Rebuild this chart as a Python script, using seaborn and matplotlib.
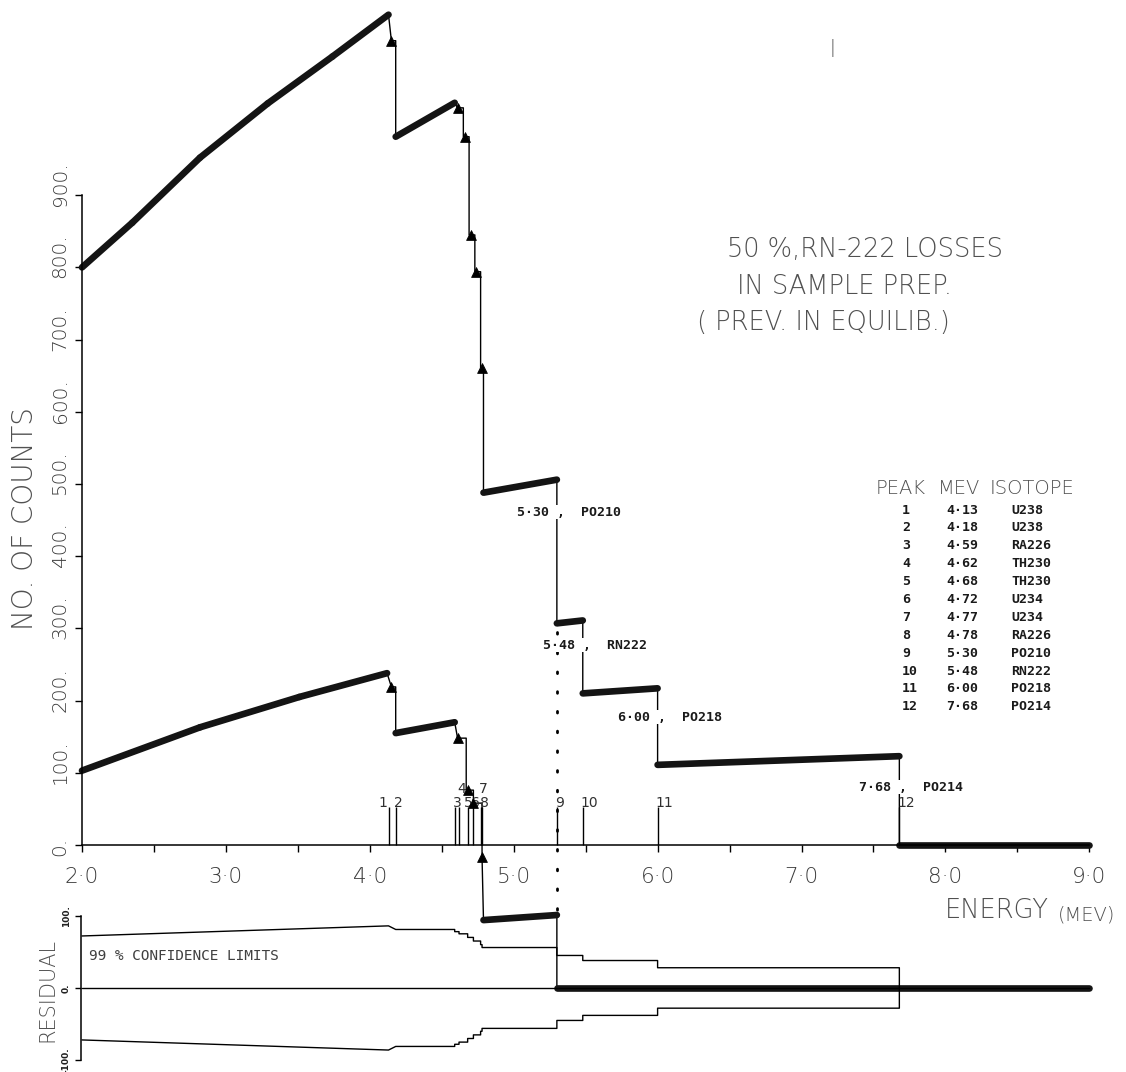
import numpy as np
import pandas as pd
import matplotlib
matplotlib.use("Agg")
import matplotlib.pyplot as plt
import matplotlib.transforms as mtransforms
import seaborn as sns

# ---------------- data ----------------
# upper (total) spectrum, counts vs energy (MeV)
upper_E = [2.00, 2.35, 2.82, 3.29, 3.74, 4.13, 4.15, 4.18, 4.18, 4.59, 4.61, 4.65,
           4.65, 4.69, 4.69, 4.73, 4.73, 4.77, 4.77, 4.79, 4.79, 5.30, 5.30, 5.48,
           5.48, 6.00, 6.00, 7.68, 7.68, 9.00]
upper_counts = [800, 862, 952, 1027, 1092, 1150, 1114, 1114, 981, 1028, 1021, 1021,
                981, 981, 845, 845, 794, 794, 661, 661, 488, 506, 307, 311,
                210, 217, 111, 123, 0, 0]
upper_marker_E = [4.15, 4.61, 4.66, 4.70, 4.74, 4.78]
upper_marker_counts = [1114, 1021, 981, 845, 794, 661]

# lower spectrum (continues into the residual panel)
lower_E = [2.00, 2.82, 3.51, 4.12, 4.15, 4.18, 4.18, 4.59, 4.61, 4.67, 4.67, 4.72,
           4.72, 4.78, 4.78, 4.79, 5.30, 5.30, 9.00]
lower_counts = [103, 163, 205, 238, 219, 219, 155, 170, 148, 148, 76, 76,
                58, 58, -17, -104, -97, -198, -198]
lower_marker_E = [4.15, 4.61, 4.68, 4.72, 4.78]
lower_marker_counts = [219, 148, 76, 58, -17]

# peaks
peak_no = [1, 2, 3, 4, 5, 6, 7, 8, 9, 10, 11, 12]
peak_E = [4.13, 4.18, 4.59, 4.62, 4.68, 4.72, 4.77, 4.78, 5.30, 5.48, 6.00, 7.68]
peak_iso = ["U238", "U238", "RA226", "TH230", "TH230", "U234", "U234", "RA226",
            "PO210", "RN222", "PO218", "PO214"]
peak_tier = [0, 0, 0, 1, 0, 0, 1, 0, 0, 0, 0, 0]
peak_line_top = 52
tier_counts = [58, 78]

# annotations on the upper spectrum
note_E = [5.30, 5.48, 6.00, 7.68]
note_counts = [461, 277, 177, 80]
note_text = ["5·30 ,  PO210", "5·48 ,  RN222", "6·00 ,  PO218", "7·68 ,  PO214"]

# dotted marker at 5.30 MeV
dot_E = 5.30
dot_top, dot_bottom = 295, -98

# residual panel: 99 % confidence limits (half width)
cl_E = [2.00, 4.13, 4.18, 4.59, 4.59, 4.62, 4.62, 4.68, 4.68, 4.72, 4.72, 4.77, 4.77,
        4.78, 4.78, 5.30, 5.30, 5.48, 5.48, 6.00, 6.00, 7.68]
cl_half = [72, 86, 81, 81, 78, 78, 75, 75, 70, 70, 65, 65, 60,
           60, 56, 56, 45, 45, 38, 38, 28, 28]
res_offset = 198   # residual zero sits at -198 counts on the main scale

x_ticks = [2.0, 3.0, 4.0, 5.0, 6.0, 7.0, 8.0, 9.0]
x_ticklabels = ["2·0", "3·0", "4·0", "5·0", "6·0", "7·0", "8·0", "9·0"]
y_ticks = [0, 100, 200, 300, 400, 500, 600, 700, 800, 900]
y_ticklabels = ["0.", "100.", "200.", "300.", "400.", "500.", "600.", "700.", "800.", "900."]
r_ticks = [-100, 0, 100]
r_ticklabels = ["-100.", "0.", "100."]

# ---------------- figure ----------------
sns.set_theme(style="white")
plt.rcParams["font.family"] = ["DejaVu Sans"]
W, H, DPI = 1126, 1072, 100
fig = plt.figure(figsize=(W / DPI, H / DPI), dpi=DPI)
fig.patch.set_facecolor("white")

XL = (2.0 - 82 / 143.9, 2.0 + (W - 82) / 143.9)
YL = (-(H - 845) / 0.722, 845 / 0.722)

ax = fig.add_axes([0, 0, 1, 1])
ax.set_xlim(*XL)
ax.set_ylim(*YL)
ax.patch.set_visible(False)

axr = fig.add_axes([0, 0, 1, 1])
axr.set_xlim(*XL)
axr.set_ylim(YL[0] + res_offset, YL[1] + res_offset)
axr.patch.set_visible(False)

GRAY = "#505050"
THIN = 1.0
BOLD = 4.8
LW = 200


def px(x, y):
    return x / W, 1 - y / H


def bold_segments(E, v):
    rows = []
    seg = 0
    for i in range(len(E) - 1):
        if E[i + 1] - E[i] > 0.1:
            rows.append((seg, E[i], v[i]))
            rows.append((seg, E[i + 1], v[i + 1]))
            seg += 1
    return pd.DataFrame(rows, columns=["seg", "E", "v"])


# thin connecting paths
sns.lineplot(x=upper_E, y=upper_counts, sort=False, estimator=None, ax=ax,
             color="black", lw=THIN)
sns.lineplot(x=lower_E, y=lower_counts, sort=False, estimator=None, ax=ax,
             color="black", lw=THIN, clip_on=False)
# bold segments
for E, v in [(upper_E, upper_counts), (lower_E, lower_counts)]:
    df = bold_segments(E, v)
    sns.lineplot(data=df, x="E", y="v", units="seg", estimator=None, sort=False, ax=ax,
                 color="#141414", lw=BOLD, solid_capstyle="round", legend=False)
# triangles
sns.scatterplot(x=upper_marker_E + lower_marker_E,
                y=upper_marker_counts + lower_marker_counts,
                marker="^", s=50, color="black", edgecolor="black", ax=ax, zorder=5)

# peak lines and numbers
ax.vlines(peak_E, 0, peak_line_top, color="black", lw=THIN)
for n, e, t in zip(peak_no, peak_E, peak_tier):
    if n == 1:
        off, ha = -1, "right"
    elif n == 5:
        off, ha = -4, "left"
    else:
        off, ha = -2, "left"
    tr = ax.transData + mtransforms.ScaledTranslation(off / DPI, 0, fig.dpi_scale_trans)
    ax.text(e, tier_counts[t], str(n), ha=ha, va="center", fontsize=10,
            color="#303030", transform=tr)

# annotations
for e, c, s in zip(note_E, note_counts, note_text):
    tr = ax.transData + mtransforms.ScaledTranslation(-40 / DPI, 0, fig.dpi_scale_trans)
    ax.text(e, c, s, ha="left", va="center", family="DejaVu Sans Mono", fontsize=9.5,
            fontweight="bold", color="#1a1a1a", transform=tr,
            bbox=dict(facecolor="white", edgecolor="none", pad=0.5), zorder=6)

# dotted line
ax.plot([dot_E, dot_E], [dot_top, dot_bottom], color="black", lw=2.0,
        linestyle=(0, (0.6, 6.5)), dash_capstyle="round", clip_on=False)

# residual panel
path_E = cl_E + cl_E[::-1]
path_r = cl_half + [-h for h in cl_half[::-1]]
sns.lineplot(x=path_E, y=path_r, sort=False, estimator=None, ax=axr, color="black", lw=THIN)
sns.lineplot(x=[2.0, 9.0], y=[0, 0], sort=False, estimator=None, ax=axr, color="black", lw=THIN)

# ---------------- axes styling ----------------
for a in (ax, axr):
    for s in ("top", "right"):
        a.spines[s].set_visible(False)
    a.grid(False)
    a.set_xlabel("")
    a.set_ylabel("")

ax.spines["left"].set_position(("data", 2.0))
ax.spines["left"].set_bounds(0, 900)
ax.spines["bottom"].set_position(("data", 0))
ax.spines["bottom"].set_bounds(2.0, 9.0)
for s in ("left", "bottom"):
    ax.spines[s].set_color("black")
    ax.spines[s].set_linewidth(1.1)

ax.set_xticks(x_ticks)
ax.set_xticklabels(x_ticklabels)
ax.set_xticks([2.5, 3.5, 4.5, 5.5, 6.5, 7.5, 8.5], minor=True)
ax.tick_params(axis="x", which="both", bottom=True, direction="out", length=5,
               width=1, color="black")
ax.tick_params(axis="x", which="major", labelsize=15.5, labelcolor="#3c3c3c", pad=11)
for lb in ax.get_xticklabels():
    lb.set_fontweight(LW)

ax.set_yticks(y_ticks)
ax.set_yticklabels(y_ticklabels)
ax.tick_params(axis="y", left=True, direction="out", length=5, width=1, color="black",
               labelsize=14.5, labelcolor="#3c3c3c", pad=4)
for tk in ax.yaxis.get_major_ticks():
    lb = tk.label1
    lb.set_rotation(90)
    lb.set_va("bottom")
    lb.set_ha("right")
    lb.set_fontweight(LW)
    lb.set_transform(lb.get_transform() +
                     mtransforms.ScaledTranslation(0, -11 / DPI, fig.dpi_scale_trans))

axr.spines["bottom"].set_visible(False)
axr.spines["left"].set_position(("data", 1.99))
axr.spines["left"].set_bounds(-100, 100)
axr.spines["left"].set_color("black")
axr.spines["left"].set_linewidth(1.1)
axr.set_xticks([])
axr.set_yticks(r_ticks)
axr.set_yticklabels(r_ticklabels)
axr.tick_params(axis="y", left=True, direction="out", length=4, width=1, color="black",
                labelsize=6.5, labelcolor="#202020", pad=3)
for tk in axr.yaxis.get_major_ticks():
    lb = tk.label1
    lb.set_rotation(90)
    lb.set_va("center")
    lb.set_ha("right")
    lb.set_fontweight("bold")

# ---------------- texts ----------------
fig.text(*px(25, 519), "NO. OF COUNTS", rotation=90, ha="center", va="center",
         fontsize=20, color=GRAY, fontweight=LW)
fig.text(*px(945, 911), "ENERGY", ha="left", va="center", fontsize=18.5, color=GRAY,
         fontweight=LW)
fig.text(*px(1058, 915), "(MEV)", ha="left", va="center", fontsize=14, color=GRAY,
         fontweight=LW)
fig.text(*px(47, 990), "RESIDUAL", rotation=90, ha="center", va="center",
         fontsize=15, color=GRAY, fontweight=LW)
fig.text(*px(89, 956), "99 % CONFIDENCE LIMITS", ha="left", va="center",
         family="DejaVu Sans Mono", fontsize=10.4, color="#404040")

fig.text(*px(727, 250), "50 %,RN-222 LOSSES", ha="left", va="center", fontsize=18.5,
         color=GRAY, fontweight=LW)
fig.text(*px(737, 287), "IN SAMPLE PREP.", ha="left", va="center", fontsize=18.5,
         color=GRAY, fontweight=LW)
fig.text(*px(697, 323), "( PREV. IN EQUILIB.)", ha="left", va="center", fontsize=18.5,
         color=GRAY, fontweight=LW)
fig.text(*px(833, 48), "|", ha="center", va="center", fontsize=12, color="#909090")

# peak table
fig.text(*px(876, 489), "PEAK", ha="left", va="center", fontsize=14, color=GRAY,
         fontweight=LW)
fig.text(*px(938, 489), "MEV", ha="left", va="center", fontsize=14, color=GRAY,
         fontweight=LW)
fig.text(*px(990, 489), "ISOTOPE", ha="left", va="center", fontsize=14, color=GRAY,
         fontweight=LW)
for i, (n, e, iso) in enumerate(zip(peak_no, peak_E, peak_iso)):
    y = 510 + 17.9 * i
    kw = dict(ha="left", va="center", family="DejaVu Sans Mono", fontsize=9.5,
              fontweight="bold", color="#1a1a1a")
    fig.text(*px(902, y), str(n), **kw)
    fig.text(*px(946, y), f"{e:.2f}".replace(".", "·"), **kw)
    fig.text(*px(1011, y), iso, **kw)

fig.savefig("out.png", dpi=DPI, facecolor="white")
